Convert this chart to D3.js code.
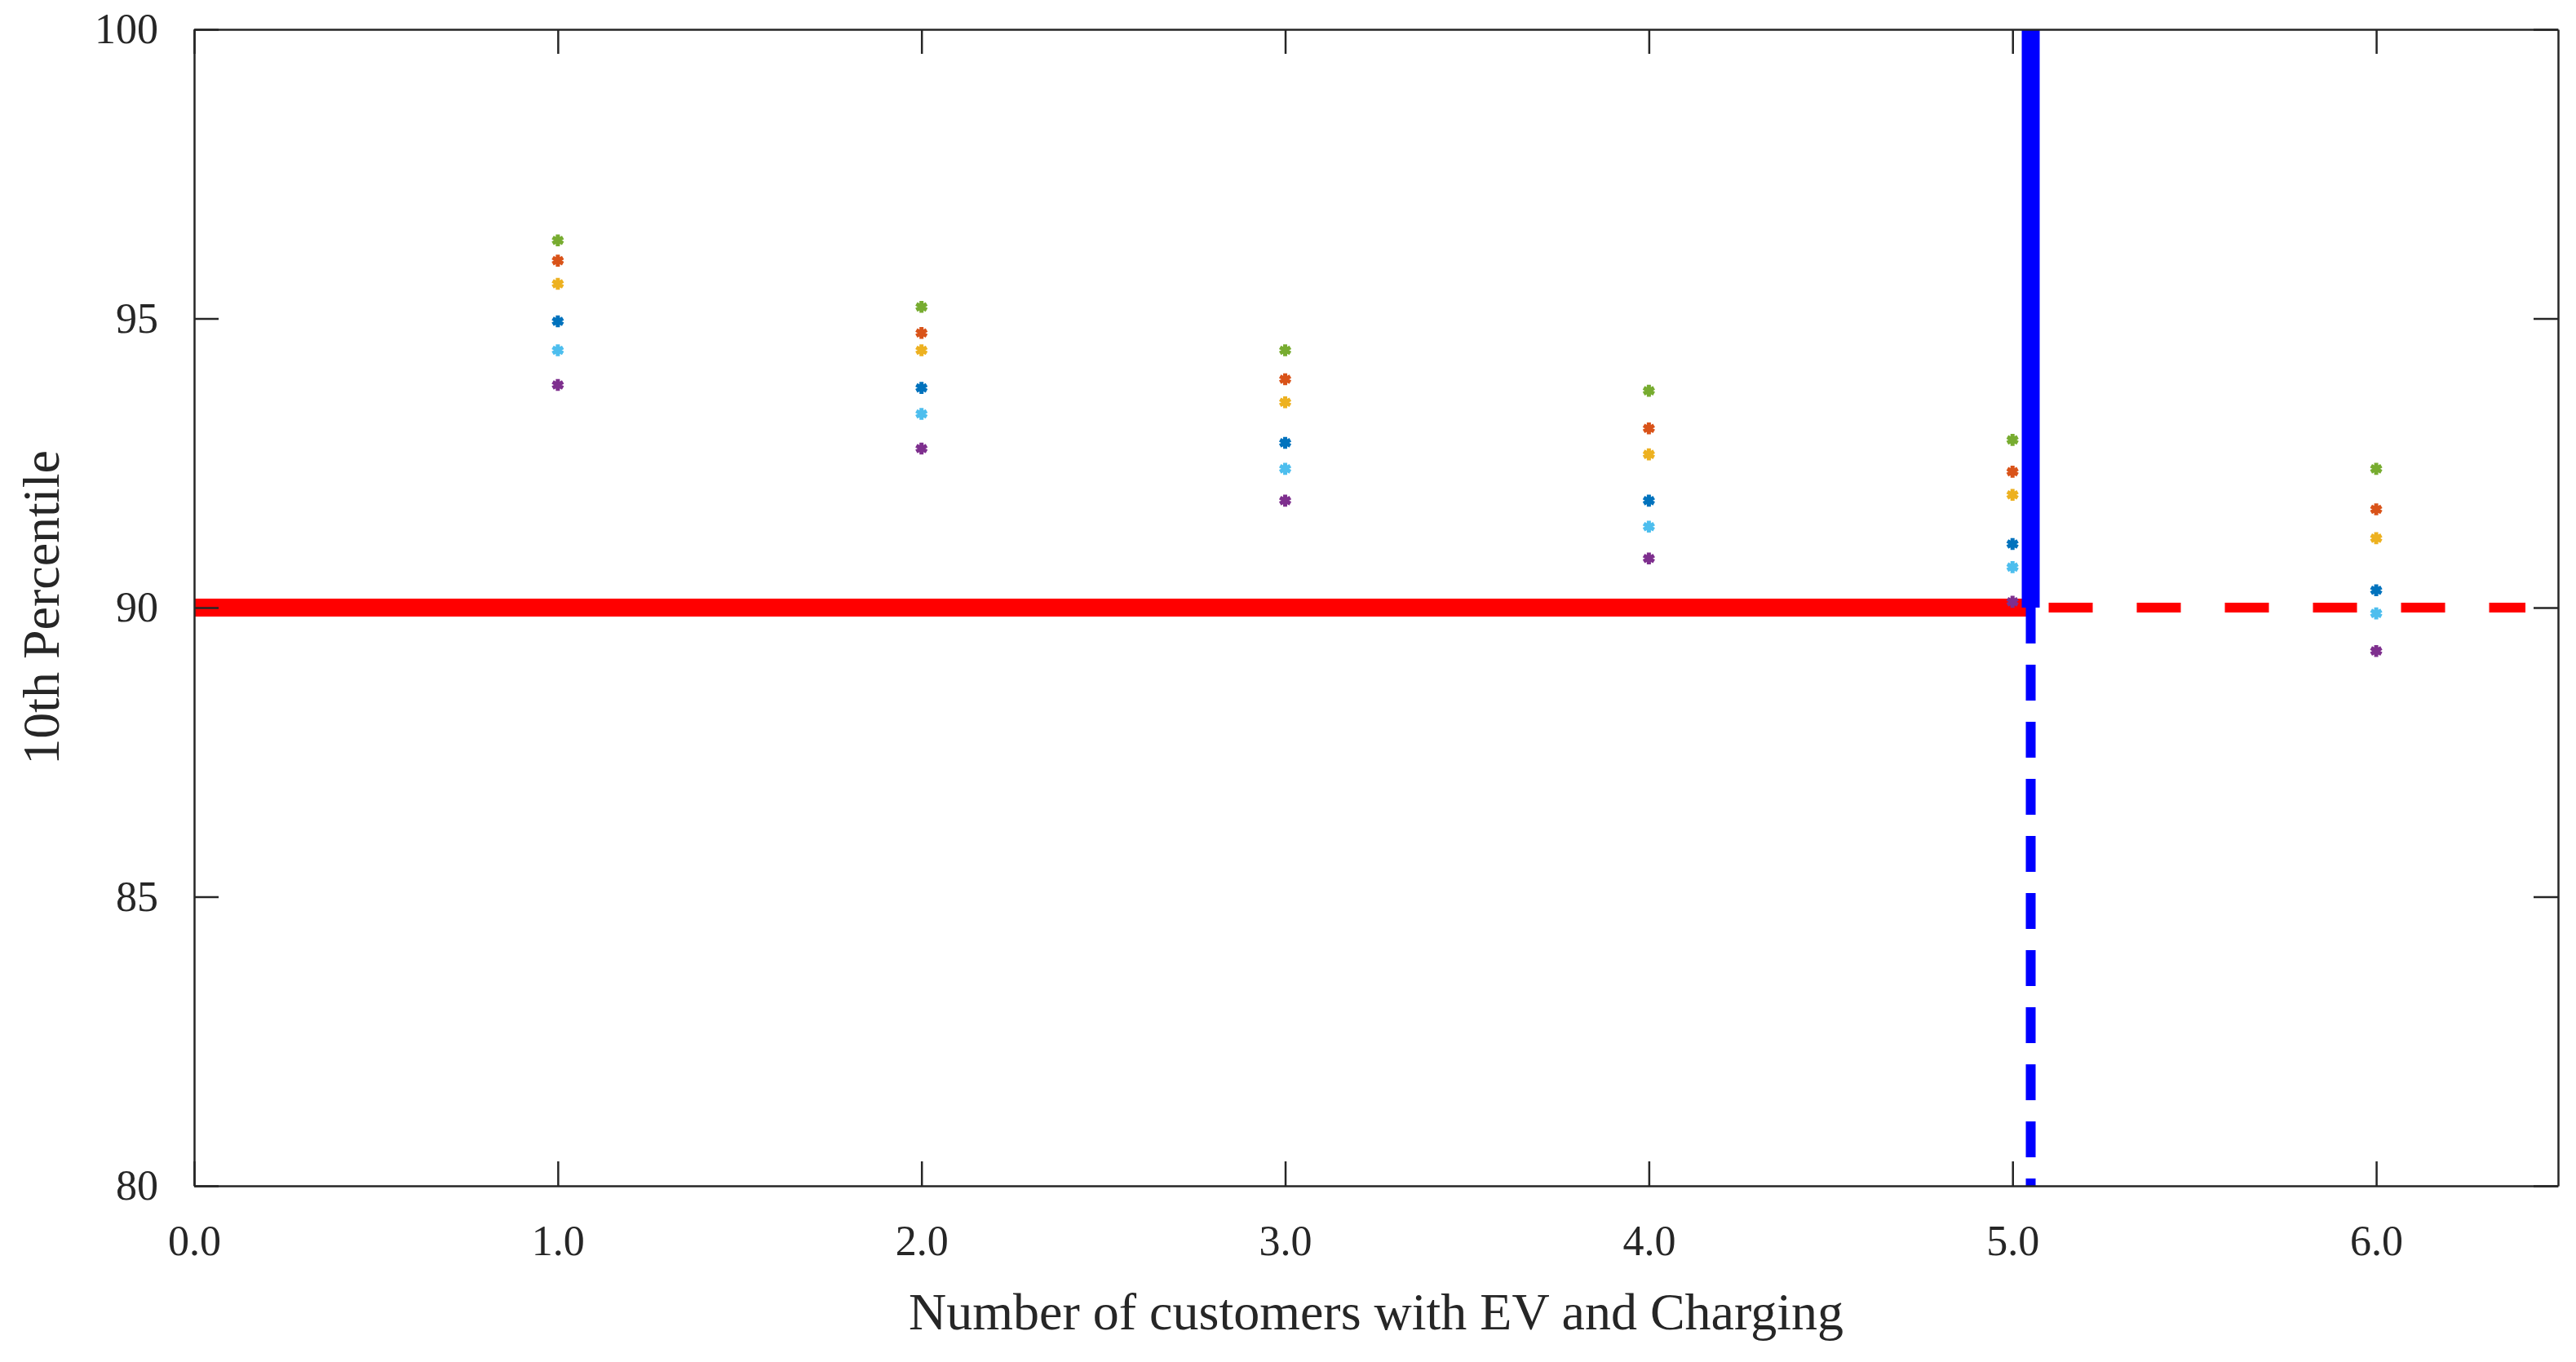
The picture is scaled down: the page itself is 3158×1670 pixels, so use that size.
<!DOCTYPE html>
<html><head><meta charset="utf-8">
<script src="https://cdn.jsdelivr.net/npm/d3@7"></script>
<style>body{margin:0;background:#fff}text{font-family:"Liberation Serif",serif;fill:#262626}</style>
</head><body><div id="chart"></div>
<script>
const xs = [1, 2, 3, 4, 5, 6];
const seriesColors = ['#77AC30', '#D95319', '#EDB120', '#0072BD', '#4DBEEE', '#7E2F8E'];
const green = [96.35, 95.2, 94.45, 93.75, 92.9, 92.4];
const orange = [96.0, 94.75, 93.95, 93.1, 92.35, 91.7];
const yellow = [95.6, 94.45, 93.55, 92.65, 91.95, 91.2];
const blue = [94.95, 93.8, 92.85, 91.85, 91.1, 90.3];
const lightBlue = [94.45, 93.35, 92.4, 91.4, 90.7, 89.9];
const purple = [93.85, 92.75, 91.85, 90.85, 90.1, 89.25];
const series = [green, orange, yellow, blue, lightBlue, purple];
const xTicks = [0, 1, 2, 3, 4, 5, 6];
const yTicks = [80, 85, 90, 95, 100];
const threshold = 90, limitX = 5.05;

const W = 3158, H = 1670, m = {l: 238, r: 22, t: 36, b: 216};
const svg = d3.select('#chart').append('svg').attr('width', W).attr('height', H);
const x = d3.scaleLinear().domain([0, 6.5]).range([m.l, W - m.r]);
const y = d3.scaleLinear().domain([80, 100]).range([H - m.b, m.t]);

// threshold lines
const g = svg.append('g');
g.append('line').attr('x1', x(0)).attr('x2', x(limitX)).attr('y1', y(threshold)).attr('y2', y(threshold))
  .attr('stroke', '#ff0000').attr('stroke-width', 22);
g.append('line').attr('x1', x(limitX) + 22).attr('x2', x(6.5) - 40).attr('y1', y(threshold)).attr('y2', y(threshold))
  .attr('stroke', '#ff0000').attr('stroke-width', 12).attr('stroke-dasharray', '54,54');

// markers
series.forEach((vals, si) => {
  g.selectAll(null).data(vals).enter().append('path')
    .attr('d', d3.symbol(d3.symbolAsterisk, 150)())
    .attr('transform', (d, i) => `translate(${x(xs[i])},${y(d)})`)
    .attr('fill', 'none').attr('stroke', seriesColors[si]).attr('stroke-width', 5);
});

g.append('line').attr('x1', x(limitX)).attr('x2', x(limitX)).attr('y1', y(100)).attr('y2', y(threshold))
  .attr('stroke', '#0000ff').attr('stroke-width', 22);
g.append('line').attr('x1', x(limitX)).attr('x2', x(limitX)).attr('y1', y(threshold)).attr('y2', y(80))
  .attr('stroke', '#0000ff').attr('stroke-width', 12).attr('stroke-dasharray', '44,26');

// axes box with inward ticks
const tl = 30;
const axB = d3.axisBottom(x).tickValues(xTicks).tickSize(-tl).tickPadding(tl + 18).tickSizeOuter(0);
const axT = d3.axisTop(x).tickValues(xTicks).tickSize(-tl).tickFormat('').tickSizeOuter(0);
const axL = d3.axisLeft(y).tickValues(yTicks).tickSize(-tl).tickPadding(tl + 14).tickSizeOuter(0);
const axR = d3.axisRight(y).tickValues(yTicks).tickSize(-tl).tickFormat('').tickSizeOuter(0);
[[axB, `0,${H - m.b}`], [axT, `0,${m.t}`], [axL, `${m.l},0`], [axR, `${W - m.r},0`]].forEach(([ax, tr]) => {
  const a = svg.append('g').attr('transform', `translate(${tr})`).call(ax);
  a.selectAll('path,line').attr('stroke', '#262626').attr('stroke-width', 2.5);
  a.selectAll('text').attr('font-size', 52).attr('font-family', '"Liberation Serif",serif').attr('fill', '#262626');
});

svg.append('text').attr('x', (x(0) + x(6.5)) / 2).attr('y', H - 40).attr('text-anchor', 'middle')
  .attr('font-size', 64).text('Number of customers with EV and Charging');
svg.append('text').attr('transform', `translate(72,${(y(80) + y(100)) / 2}) rotate(-90)`).attr('text-anchor', 'middle')
  .attr('font-size', 64).text('10th Percentile');
</script></body></html>
